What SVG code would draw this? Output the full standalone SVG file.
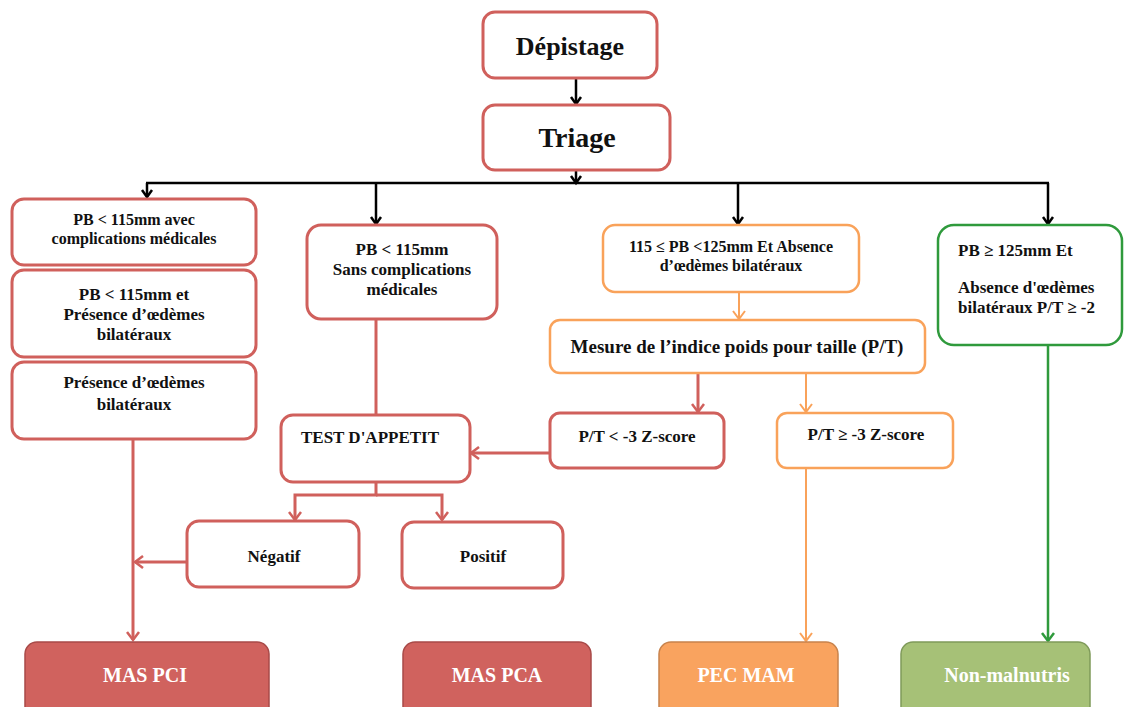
<svg xmlns="http://www.w3.org/2000/svg" width="1127" height="707" viewBox="0 0 1127 707">
<style>
text{font-family:"Liberation Serif","Times New Roman",serif;font-weight:bold;fill:#111;}
.c{text-anchor:middle;}
.red{fill:#fff;stroke:#d0605c;stroke-width:3;}
.org{fill:#fff;stroke:#f9a25a;stroke-width:2.5;}
.grn{fill:#fff;stroke:#2f9a3c;stroke-width:2.5;}
.bot{stroke-width:1.5;}
.w{fill:#fff;font-size:20px;}
.t16{font-size:16px;}
.t17{font-size:17px;}
.lk{fill:none;stroke:#000;stroke-width:2.5;}
.lr{fill:none;stroke:#d0605c;stroke-width:3;}
.lo{fill:none;stroke:#f9a25a;stroke-width:2;}
.lg{fill:none;stroke:#2f9a3c;stroke-width:2.5;}
</style>
<defs>
<marker id="ak" markerUnits="userSpaceOnUse" markerWidth="16" markerHeight="16" viewBox="-10 -8 14 16" refX="0" refY="0" orient="auto"><path d="M-7,-5 L0,0 L-7,5" fill="none" stroke="#000" stroke-width="2.5"/></marker>
<marker id="ar" markerUnits="userSpaceOnUse" markerWidth="16" markerHeight="16" viewBox="-10 -8 14 16" refX="0" refY="0" orient="auto"><path d="M-8,-6 L0,0 L-8,6" fill="none" stroke="#d0605c" stroke-width="2.5"/></marker>
<marker id="ao" markerUnits="userSpaceOnUse" markerWidth="16" markerHeight="16" viewBox="-10 -8 14 16" refX="0" refY="0" orient="auto"><path d="M-8,-6 L0,0 L-8,6" fill="none" stroke="#f9a25a" stroke-width="2"/></marker>
<marker id="ag" markerUnits="userSpaceOnUse" markerWidth="16" markerHeight="16" viewBox="-10 -8 14 16" refX="0" refY="0" orient="auto"><path d="M-8,-6 L0,0 L-8,6" fill="none" stroke="#2f9a3c" stroke-width="2.5"/></marker>
</defs>

<g id="connectors">
<line class="lk" x1="576" y1="79" x2="576" y2="104" marker-end="url(#ak)"/>
<line class="lk" x1="576" y1="171" x2="576" y2="183" marker-end="url(#ak)"/>
<line class="lk" x1="146" y1="183" x2="1049" y2="183"/>
<line class="lk" x1="147" y1="183" x2="147" y2="197" marker-end="url(#ak)"/>
<line class="lk" x1="376" y1="183" x2="376" y2="224" marker-end="url(#ak)"/>
<line class="lk" x1="738" y1="183" x2="738" y2="224" marker-end="url(#ak)"/>
<line class="lk" x1="1048" y1="183" x2="1048" y2="224" marker-end="url(#ak)"/>
<line class="lr" x1="376" y1="319" x2="376" y2="415"/>
<polyline class="lr" points="376,482 376,495 295,495 295,520" marker-end="url(#ar)"/>
<polyline class="lr" points="376,495 442,495 442,520" marker-end="url(#ar)"/>
<line class="lr" x1="133" y1="439" x2="133" y2="640" marker-end="url(#ar)"/>
<line class="lr" x1="186" y1="562" x2="135" y2="562" marker-end="url(#ar)"/>
<line class="lr" x1="550" y1="453" x2="471" y2="453" marker-end="url(#ar)"/>
<line class="lr" x1="698" y1="374" x2="698" y2="412" marker-end="url(#ar)"/>
<line class="lo" x1="739" y1="293" x2="739" y2="319" marker-end="url(#ao)"/>
<line class="lo" x1="806" y1="374" x2="806" y2="412" marker-end="url(#ao)"/>
<line class="lo" x1="806" y1="469" x2="806" y2="641" marker-end="url(#ao)"/>
<line class="lg" x1="1048" y1="346" x2="1048" y2="641" marker-end="url(#ag)"/>
</g>

<g id="depistage"><rect class="red" x="483" y="12" width="174" height="66" rx="12"/><text class="c" x="570" y="55" font-size="26">Dépistage</text></g>
<g id="triage"><rect class="red" x="483" y="105" width="187" height="65" rx="12"/><text class="c" x="577" y="147" font-size="28">Triage</text></g>

<g id="box-avec"><rect class="red" x="12" y="199" width="244" height="66" rx="12"/>
<text class="c t16" x="134" y="225">PB &lt; 115mm avec</text>
<text class="c t16" x="134" y="244">complications médicales</text></g>

<g id="box-et"><rect class="red" x="12" y="270" width="244" height="87" rx="12"/>
<text class="c t17" x="134" y="300">PB &lt; 115mm et</text>
<text class="c t17" x="134" y="320">Présence d’œdèmes</text>
<text class="c t17" x="134" y="340">bilatéraux</text></g>

<g id="box-presence"><rect class="red" x="12" y="362" width="244" height="77" rx="12"/>
<text class="c t17" x="134" y="388">Présence d’œdèmes</text>
<text class="c t17" x="134" y="410">bilatéraux</text></g>

<g id="box-sans"><rect class="red" x="307" y="225" width="190" height="94" rx="14"/>
<text class="c t17" x="402" y="255">PB &lt; 115mm</text>
<text class="c t17" x="402" y="275">Sans complications</text>
<text class="c t17" x="402" y="295">médicales</text></g>

<g id="test"><rect class="red" x="281" y="415" width="189" height="67" rx="12"/>
<text class="c t17" x="370" y="443">TEST D'APPETIT</text></g>

<g id="negatif"><rect class="red" x="187" y="521" width="172" height="66" rx="12"/>
<text class="c t17" x="274" y="562">Négatif</text></g>

<g id="positif"><rect class="red" x="402" y="522" width="161" height="66" rx="12"/>
<text class="c t17" x="483" y="562">Positif</text></g>

<g id="box-115"><rect class="org" x="603" y="225" width="256" height="67" rx="12"/>
<text class="c" x="731" y="252" font-size="16">115 ≤ PB &lt;125mm Et Absence</text>
<text class="c" x="731" y="271" font-size="16">d’œdèmes bilatéraux</text></g>

<g id="mesure"><rect class="org" x="550" y="320" width="375" height="53" rx="10"/>
<text class="c" x="737" y="353" font-size="19">Mesure de l’indice poids pour taille (P/T)</text></g>

<g id="pt-lt"><rect class="red" x="550" y="413" width="174" height="55" rx="10"/>
<text class="c t17" x="637" y="442">P/T &lt; -3 Z-score</text></g>

<g id="pt-ge"><rect class="org" x="777" y="413" width="176" height="55" rx="10"/>
<text class="c t17" x="866" y="440">P/T ≥ -3 Z-score</text></g>

<g id="box-125"><rect class="grn" x="938" y="225" width="184" height="120" rx="16"/>
<text class="t17" x="958" y="256">PB ≥ 125mm Et</text>
<text class="t17" x="958" y="293">Absence d'œdèmes</text>
<text class="t17" x="958" y="313">bilatéraux P/T ≥ -2</text></g>

<g id="mas-pci"><rect class="bot" x="25" y="642" width="244" height="80" rx="12" fill="#d0625e" stroke="#a84a48"/>
<text class="c w" x="145" y="682">MAS PCI</text></g>
<g id="mas-pca"><rect class="bot" x="403" y="642" width="188" height="80" rx="12" fill="#d0625e" stroke="#a84a48"/>
<text class="c w" x="497" y="682">MAS PCA</text></g>
<g id="pec-mam"><rect class="bot" x="659" y="642" width="179" height="80" rx="12" fill="#f9a35f" stroke="#c8834c"/>
<text class="c w" x="746" y="682">PEC MAM</text></g>
<g id="non-malnutris"><rect class="bot" x="901" y="642" width="189" height="80" rx="12" fill="#a6c177" stroke="#7f9a5a"/>
<text class="c w" x="1007" y="682">Non-malnutris</text></g>
</svg>
